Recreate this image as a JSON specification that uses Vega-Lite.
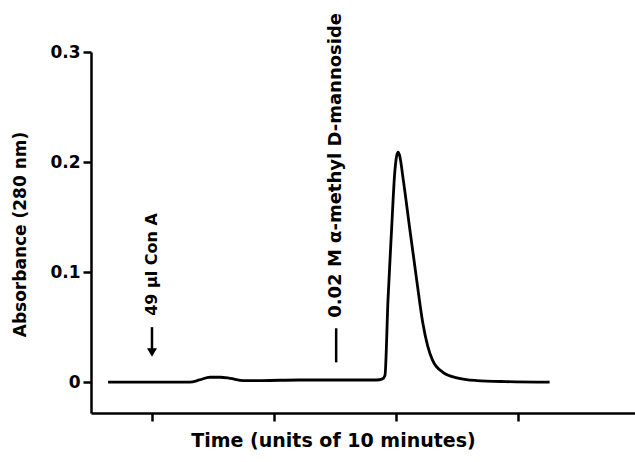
{
  "$schema": "https://vega.github.io/schema/vega-lite/v6.json",
  "width": 544,
  "height": 361,
  "autosize": {"type": "none"},
  "padding": {"left": 91, "top": 52, "right": 0, "bottom": 49},
  "background": "white",
  "config": {
    "view": {"stroke": null},
    "font": "DejaVu Sans",
    "axis": {
      "domainColor": "black", "domainWidth": 2.5, "tickColor": "black", "tickWidth": 2.5,
      "grid": false, "labelColor": "black", "titleColor": "black",
      "labelFont": "DejaVu Sans", "titleFont": "DejaVu Sans",
      "labelFontWeight": "bold", "titleFontWeight": "bold"
    }
  },
  "datasets": {
    "curve": [
      {"t": 0.64, "v": 0}, {"t": 1.0, "v": 0}, {"t": 1.31, "v": 0}, {"t": 1.39, "v": 0.002},
      {"t": 1.475, "v": 0.0045}, {"t": 1.56, "v": 0.0045}, {"t": 1.64, "v": 0.0035}, {"t": 1.75, "v": 0.0015},
      {"t": 1.9, "v": 0.0015}, {"t": 2.2, "v": 0.002}, {"t": 2.5, "v": 0.002}, {"t": 2.84, "v": 0.002},
      {"t": 2.89, "v": 0.003}, {"t": 2.91, "v": 0.006}, {"t": 2.935, "v": 0.075}, {"t": 2.965, "v": 0.14},
      {"t": 2.99, "v": 0.19}, {"t": 3.005, "v": 0.205}, {"t": 3.018, "v": 0.209}, {"t": 3.03, "v": 0.206},
      {"t": 3.06, "v": 0.184}, {"t": 3.115, "v": 0.138}, {"t": 3.17, "v": 0.093}, {"t": 3.22, "v": 0.054},
      {"t": 3.26, "v": 0.033}, {"t": 3.3, "v": 0.02}, {"t": 3.385, "v": 0.009}, {"t": 3.5, "v": 0.004},
      {"t": 3.66, "v": 0.0015}, {"t": 3.9, "v": 0.0005}, {"t": 4.26, "v": 0}
    ],
    "marks": [
      {"t": 1.0, "v1": 0.05, "v2": 0.03},
      {"t": 2.51, "v1": 0.049, "v2": 0.018}
    ],
    "arrow": [{"t": 1.0, "v": 0.027}],
    "labels": [
      {"t": 1.0, "v": 0.107, "label": "49 µl Con A", "fs": 16},
      {"t": 2.51, "v": 0.197, "label": "0.02 M α-methyl  D-mannoside", "fs": 18}
    ]
  },
  "layer": [
    {
      "data": {"name": "curve"},
      "mark": {"type": "line", "color": "black", "strokeWidth": 2.8, "interpolate": "monotone"},
      "encoding": {
        "x": {"field": "t", "type": "quantitative",
          "scale": {"domain": [0.5, 4.96], "nice": false, "zero": false},
          "axis": {"values": [1, 2, 3, 4], "labels": false, "tickSize": 8, "title": "Time (units of 10 minutes)",
            "titleFontSize": 19, "titlePadding": 9, "titleX": 242, "titleAlign": "center"}},
        "y": {"field": "v", "type": "quantitative",
          "scale": {"domain": [-0.028, 0.3], "nice": false, "zero": false},
          "axis": {"values": [0, 0.1, 0.2, 0.3], "labelExpr": "datum.value == 0 ? '0' : format(datum.value, '.1f')",
            "tickSize": 8, "labelPadding": 3, "labelFontSize": 17, "title": "Absorbance (280 nm)",
            "titleFontSize": 17, "titleX": -71, "titleY": 182, "titleAngle": 270, "titleAlign": "center", "titleBaseline": "middle"}}
      }
    },
    {
      "data": {"name": "marks"},
      "mark": {"type": "rule", "color": "black", "strokeWidth": 2.5},
      "encoding": {
        "x": {"field": "t", "type": "quantitative"},
        "y": {"field": "v1", "type": "quantitative"},
        "y2": {"field": "v2"}
      }
    },
    {
      "data": {"name": "arrow"},
      "mark": {"type": "point", "shape": "triangle-down", "filled": true, "color": "black", "size": 100, "opacity": 1},
      "encoding": {
        "x": {"field": "t", "type": "quantitative"},
        "y": {"field": "v", "type": "quantitative"}
      }
    },
    {
      "data": {"name": "labels"},
      "mark": {"type": "text", "angle": 270, "align": "center", "baseline": "middle", "fontWeight": "bold", "color": "black", "font": "DejaVu Sans"},
      "encoding": {
        "x": {"field": "t", "type": "quantitative"},
        "y": {"field": "v", "type": "quantitative"},
        "text": {"field": "label"},
        "size": {"field": "fs", "type": "quantitative", "scale": null}
      }
    }
  ]
}
